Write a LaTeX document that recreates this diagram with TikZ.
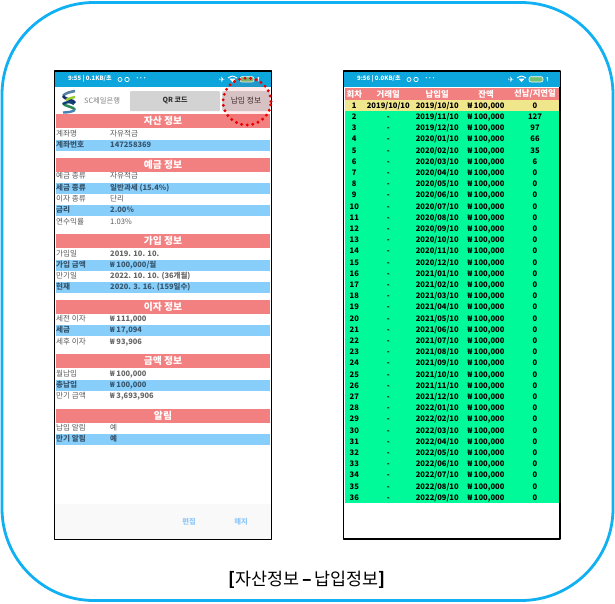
\documentclass[tikz,border=0pt]{standalone}
\usepackage[x11names, svgnames, rgb]{xcolor}
\usepackage{fontspec}
\setmainfont{Noto Sans CJK KR}
\newfontfamily\symfont{DejaVu Sans}
\usetikzlibrary{shapes}
\definecolor{framecol}{HTML}{10B0F2}
\definecolor{barcol}{HTML}{0CA5DC}
\definecolor{seccol}{HTML}{F28080}
\definecolor{rowcol}{HTML}{87CEFA}
\definecolor{paidcol}{HTML}{F0E68C}
\definecolor{duecol}{HTML}{00FA9A}
\definecolor{labcol}{HTML}{5A5A5A}
\definecolor{valcol}{HTML}{666666}
\definecolor{boldcol}{HTML}{37566E}
\definecolor{linkcol}{HTML}{90C8F8}
\tikzset{
	secbar/.style={fill=seccol,minimum width=214pt,minimum height=14pt,inner sep=0pt,text=white,font=\fontsize{9.8}{11}\selectfont\bfseries},
	rowbar/.style={fill=rowcol,minimum width=214pt,minimum height=11pt,inner sep=0pt},
	lab/.style={anchor=west,inner sep=0pt,text height=5.6pt,text depth=1.6pt,text=labcol,font=\fontsize{7.6}{9}\selectfont},
	val/.style={lab,text=valcol,font=\fontsize{7.5}{9}\selectfont\bfseries},
	blab/.style={lab,text=boldcol,font=\fontsize{7.6}{9}\selectfont\bfseries},
	bval/.style={blab,font=\fontsize{7.5}{9}\selectfont\bfseries},
	cell/.style={inner sep=0pt,text height=5.6pt,text depth=1.6pt,text=black,font=\fontsize{7.6}{9}\selectfont\bfseries},
	hdr/.style={inner sep=0pt,text=white,font=\fontsize{8.4}{10}\selectfont\bfseries},
	stat/.style={anchor=west,inner sep=0pt,text=white,font=\fontsize{6}{7}\selectfont\bfseries},
	screen/.style={draw=black,line width=1.3pt,fill=white,inner sep=0pt},
	dotmark/.style={draw=red!90!black,ellipse,fill=red,fill opacity=0.08,draw opacity=1,line width=3.2pt,line cap=round,dash pattern=on 0pt off 5.6pt,minimum width=48pt,minimum height=47pt,inner sep=0pt}
}
\newcommand{\payrow}[5]{
		\node (no#1) at (354.3,#2) [cell] {#1};
		\node (paid#1) at (388.3,#2) [cell] {#3};
		\node (date#1) at (437.3,#2) [cell] {#4};
		\node (amt#1) at (486,#2) [cell] {₩ 100,000};
		\node (late#1) at (535,#2) [cell] {#5};
}
\newcommand{\phonebar}[2]{
		\draw [white,line width=0.7pt] (#1+52,#2) circle (2pt);
		\draw [white,line width=0.7pt] (#1+59,#2) circle (2.2pt);
		\node at (#1+222-68,#2) [white,inner sep=0pt,font=\symfont\fontsize{7.5}{8}\selectfont] {✈};
		\draw [white,line width=0.9pt] (#1+228-68,#2-1.5) .. controls (#1+232-68,#2-4) and (#1+233-68,#2-4) .. (#1+237-68,#2-1.5);
		\fill [white] (#1+229.5-68,#2-0.8) -- (#1+235.5-68,#2-0.8) -- (#1+232.5-68,#2+2.6) -- cycle;
		\filldraw [fill=DarkSeaGreen!70!LimeGreen,draw=white,line width=0.6pt,rounded corners=2pt] (#1+240-68,#2-2.8) rectangle (#1+254-68,#2+2.5);
		\fill [white] (#1+257.6-68,#2-2.5) -- (#1+259-68,#2-2.5) -- (#1+258.4-68,#2+2.5) -- cycle;
}
\begin{document}
\begin{tikzpicture}[x=1pt,y=-1pt,line join=bevel]
		\useasboundingbox (0,0) rectangle (615,603);
		\node (outer) at (307.5,301.5) [draw=framecol,line width=2.8pt,rounded corners=92pt,minimum width=611pt,minimum height=598pt,inner sep=0pt] {};
		% left screen
		\node (left) at (163,305.3) [screen,minimum width=216.5pt,minimum height=468.5pt] {};
		\fill [barcol] (55,71.6) rectangle (270.6,87);
		\fill [WhiteSmoke!60!white] (55,504) rectangle (270.6,539);
		\node (ltime) at (68,79) [stat] {9:55 | 0.1KB/초\qquad\qquad ···};
		\phonebar{68}{79.5}
		% logo
		\draw [SteelBlue!70!gray,line width=2.6pt] (75,91) .. controls (70,92) and (65,93) .. (63,96);
		\draw [MidnightBlue!80!teal,line width=2.6pt] (63,96) .. controls (63,99) and (75,100) .. (75,103);
		\draw [SeaGreen,line width=2.6pt] (63,103) .. controls (63,106) and (75,107) .. (75,110);
		\draw [YellowGreen,line width=2.4pt] (75,97) .. controls (72,97.5) and (68,99) .. (66,100);
		\draw [MidnightBlue!60!teal,line width=2.4pt] (63,104) .. controls (66,102) and (70,101) .. (74,104);
		\draw [SteelBlue,line width=2.4pt] (75,110) .. controls (72,112) and (67,112.5) .. (63,112.5);
		\node (bank) at (84,101) [lab,text=gray,font=\fontsize{7.3}{9}\selectfont] {SC제일은행};
		\node (qr) at (175,101) [fill=LightGray,minimum width=90pt,minimum height=20pt,inner sep=0pt,text=black!80,font=\fontsize{7}{9}\selectfont\bfseries,rounded corners=1pt] {QR 코드};
		\node (pay) at (246,101) [fill=LightGray,minimum width=48pt,minimum height=20pt,inner sep=0pt,text=black!80,font=\fontsize{7.8}{9}\selectfont,rounded corners=1pt] {납입 정보};
		% account block
		\node (sec1) at (163,121) [secbar] {자산 정보};
		\node (lab1) at (56,134.2) [lab] {계좌명};
		\node (val1) at (110,134.2) [lab] {자유적금};
		\node (bar1) at (163,145.3) [rowbar] {};
		\node (lab2) at (56,145.3) [blab] {계좌번호};
		\node (val2) at (110,145.3) [bval] {147258369};
		% deposit block
		\node (sec2) at (163,164.5) [secbar] {예금 정보};
		\node (lab3) at (56,176.7) [lab] {예금 종류};
		\node (val3) at (110,176.7) [lab] {자유적금};
		\node (bar2) at (163,188.2) [rowbar] {};
		\node (lab4) at (56,188.2) [blab] {세금 종류};
		\node (val4) at (110,188.2) [bval] {일반과세 (15.4\%)};
		\node (lab5) at (56,199.6) [lab] {이자 종류};
		\node (val5) at (110,199.6) [lab] {단리};
		\node (bar3) at (163,210.7) [rowbar] {};
		\node (lab6) at (56,210.7) [blab] {금리};
		\node (val6) at (110,210.7) [bval] {2.00\%};
		\node (lab7) at (56,222.2) [lab] {연수익률};
		\node (val7) at (110,222.2) [lab] {1.03\%};
		% join block
		\node (sec3) at (163,241) [secbar] {가입 정보};
		\node (lab8) at (56,254) [lab] {가입일};
		\node (val8) at (110,254) [val] {2019. 10. 10.};
		\node (bar4) at (163,265) [rowbar] {};
		\node (lab9) at (56,265) [blab] {가입 금액};
		\node (val9) at (110,265) [bval] {₩ 100,000/월};
		\node (lab10) at (56,276.7) [lab] {만기일};
		\node (val10) at (110,276.7) [val] {2022. 10. 10. (36개월)};
		\node (bar5) at (163,287.7) [rowbar] {};
		\node (lab11) at (56,287.7) [blab] {현재};
		\node (val11) at (110,287.7) [bval] {2020. 3. 16. (159일수)};
		% interest block
		\node (sec4) at (163,306.7) [secbar] {이자 정보};
		\node (lab12) at (56,319.7) [lab] {세전 이자};
		\node (val12) at (110,319.7) [val] {₩ 111,000};
		\node (bar6) at (163,330.8) [rowbar] {};
		\node (lab13) at (56,330.8) [blab] {세금};
		\node (val13) at (110,330.8) [bval] {₩ 17,094};
		\node (lab14) at (56,342.3) [lab] {세후 이자};
		\node (val14) at (110,342.3) [val] {₩ 93,906};
		% amount block
		\node (sec5) at (163,361.3) [secbar] {금액 정보};
		\node (lab15) at (56,374.3) [lab] {월납입};
		\node (val15) at (110,374.3) [val] {₩ 100,000};
		\node (bar7) at (163,385.5) [rowbar] {};
		\node (lab16) at (56,385.5) [blab] {총납입};
		\node (val16) at (110,385.5) [bval] {₩ 100,000};
		\node (lab17) at (56,396.7) [lab] {만기 금액};
		\node (val17) at (110,396.7) [val] {₩ 3,693,906};
		% alarm block
		\node (sec6) at (163,415.7) [secbar] {알림};
		\node (lab18) at (56,428.3) [lab] {납입 알림};
		\node (val18) at (110,428.3) [lab] {예};
		\node (bar8) at (163,439.6) [rowbar] {};
		\node (lab19) at (56,439.6) [blab] {만기 알림};
		\node (val19) at (110,439.6) [bval] {예};
		% footer
		\node (edit) at (189,521.7) [text=linkcol,inner sep=0pt,font=\fontsize{7.3}{9}\selectfont\bfseries] {편집};
		\node (quit) at (241,521.7) [text=linkcol,inner sep=0pt,font=\fontsize{7.3}{9}\selectfont\bfseries] {해지};
		\node (mark) at (247,101.5) [dotmark] {};
		% right screen
		\node (right) at (451.8,305) [screen,minimum width=216.5pt,minimum height=468pt] {};
		\fill [barcol] (344,71.6) rectangle (559.6,87);
		\node (rtime) at (357,79) [stat] {9:56 | 0.0KB/초\qquad\qquad ···};
		\phonebar{357}{79.5}
		\node (hbar) at (452.2,94) [fill=seccol,minimum width=214.5pt,minimum height=12.6pt,inner sep=0pt] {};
		\node (h1) at (354.3,94) [hdr] {회차};
		\node (h2) at (388.3,94) [hdr] {거래일};
		\node (h3) at (437.3,94) [hdr] {납입일};
		\node (h4) at (486,94) [hdr] {잔액};
		\node (h5) at (535,94) [hdr] {선납/지연일};
		\node (ybar) at (452.2,105.7) [fill=paidcol,minimum width=214.5pt,minimum height=11pt,inner sep=0pt] {};
		\node (gbar) at (452.2,307) [fill=duecol,minimum width=214.5pt,minimum height=392pt,inner sep=0pt] {};
		\payrow{1}{106.3}{2019/10/10}{2019/10/10}{0}
		\payrow{2}{117.5}{-}{2019/11/10}{127}
		\payrow{3}{128.7}{-}{2019/12/10}{97}
		\payrow{4}{139.9}{-}{2020/01/10}{66}
		\payrow{5}{151.1}{-}{2020/02/10}{35}
		\payrow{6}{162.3}{-}{2020/03/10}{6}
		\payrow{7}{173.5}{-}{2020/04/10}{0}
		\payrow{8}{184.7}{-}{2020/05/10}{0}
		\payrow{9}{195.9}{-}{2020/06/10}{0}
		\payrow{10}{207.1}{-}{2020/07/10}{0}
		\payrow{11}{218.3}{-}{2020/08/10}{0}
		\payrow{12}{229.5}{-}{2020/09/10}{0}
		\payrow{13}{240.7}{-}{2020/10/10}{0}
		\payrow{14}{251.9}{-}{2020/11/10}{0}
		\payrow{15}{263.1}{-}{2020/12/10}{0}
		\payrow{16}{274.3}{-}{2021/01/10}{0}
		\payrow{17}{285.5}{-}{2021/02/10}{0}
		\payrow{18}{296.7}{-}{2021/03/10}{0}
		\payrow{19}{307.9}{-}{2021/04/10}{0}
		\payrow{20}{319.1}{-}{2021/05/10}{0}
		\payrow{21}{330.3}{-}{2021/06/10}{0}
		\payrow{22}{341.5}{-}{2021/07/10}{0}
		\payrow{23}{352.7}{-}{2021/08/10}{0}
		\payrow{24}{363.9}{-}{2021/09/10}{0}
		\payrow{25}{375.1}{-}{2021/10/10}{0}
		\payrow{26}{386.3}{-}{2021/11/10}{0}
		\payrow{27}{397.5}{-}{2021/12/10}{0}
		\payrow{28}{408.7}{-}{2022/01/10}{0}
		\payrow{29}{419.9}{-}{2022/02/10}{0}
		\payrow{30}{431.1}{-}{2022/03/10}{0}
		\payrow{31}{442.3}{-}{2022/04/10}{0}
		\payrow{32}{453.5}{-}{2022/05/10}{0}
		\payrow{33}{464.7}{-}{2022/06/10}{0}
		\payrow{34}{475.9}{-}{2022/07/10}{0}
		\payrow{35}{487.1}{-}{2022/08/10}{0}
		\payrow{36}{498.3}{-}{2022/09/10}{0}
		\node (caption) at (307,580) [inner sep=0pt,text=black,font=\fontsize{17.4}{19}\selectfont] {{\bfseries[}자산정보{\bfseries\,–\,}납입정보{\bfseries]}};
\end{tikzpicture}
\end{document}
